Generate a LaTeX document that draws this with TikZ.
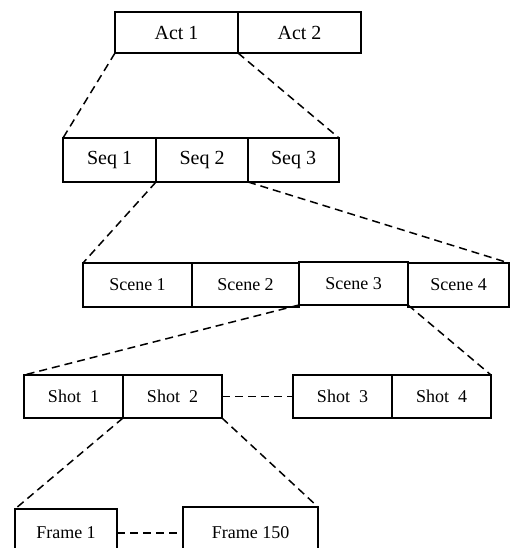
\documentclass[tikz,border=0pt]{standalone}
\usepackage{fontspec}
\setmainfont{Liberation Serif}
\begin{document}
\begin{tikzpicture}[x=1pt,y=-1pt,
  box/.style={draw=black, line width=1.4pt, rectangle, anchor=north west, inner sep=0pt, outer sep=0pt, font=\fontsize{18}{20}\selectfont},
  bigbox/.style={box, font=\fontsize{20}{22}\selectfont},
  link/.style={draw=black, line width=1.5pt, dash pattern=on 8pt off 5pt}]
\useasboundingbox (0,0) rectangle (511,548);
\clip (0,0) rectangle (511,548);
% Acts
\node[bigbox, minimum width=123pt, minimum height=41pt] (act1) at (115,12) {Act 1};
\node[bigbox, minimum width=123pt, minimum height=41pt] (act2) at (238,12) {Act 2};
% Sequences
\node[bigbox, minimum width=93pt, minimum height=44pt] (seq1) at (63,138) {Seq 1};
\node[bigbox, minimum width=92pt, minimum height=44pt] (seq2) at (156,138) {Seq 2};
\node[bigbox, minimum width=91pt, minimum height=44pt] (seq3) at (248,138) {Seq 3};
% Scenes
\node[box, minimum width=109pt, minimum height=44pt] (sc1) at (83,263) {Scene 1};
\node[box, minimum width=107pt, minimum height=44pt] (sc2) at (192,263) {Scene 2};
\node[box, minimum width=109pt, minimum height=43pt] (sc3) at (299,262) {Scene 3};
\node[box, minimum width=101pt, minimum height=44pt] (sc4) at (408,263) {Scene 4};
% Shots
\node[box, minimum width=99pt, minimum height=43pt] (sh1) at (24,375) {Shot~~1};
\node[box, minimum width=99pt, minimum height=43pt] (sh2) at (123,375) {Shot~~2};
\node[box, minimum width=99pt, minimum height=43pt] (sh3) at (293,375) {Shot~~3};
\node[box, minimum width=99pt, minimum height=43pt] (sh4) at (392,375) {Shot~~4};
% Frames
\node[box, minimum width=102pt, minimum height=48pt] (fr1) at (15,509) {Frame 1};
\node[box, minimum width=135pt, minimum height=52pt] (fr150) at (183,507) {Frame 150};
% Connectors
\draw[link] (act1.south west) -- (seq1.north west);
\draw[link] (act1.south east) -- (seq3.north east);
\draw[link] (seq2.south west) -- (sc1.north west);
\draw[link] (seq3.south west) -- (sc4.north east);
\draw[link] (sc3.south west) -- (sh1.north west);
\draw[link] (sc3.south east) -- (sh4.north east);
\draw[link] (sh2.east) -- (sh3.west);
\draw[link] (sh1.south east) -- (fr1.north west);
\draw[link] (sh2.south east) -- (fr150.north east);
\draw[link] (fr1.east) -- (fr150.west);
\end{tikzpicture}
\end{document}
